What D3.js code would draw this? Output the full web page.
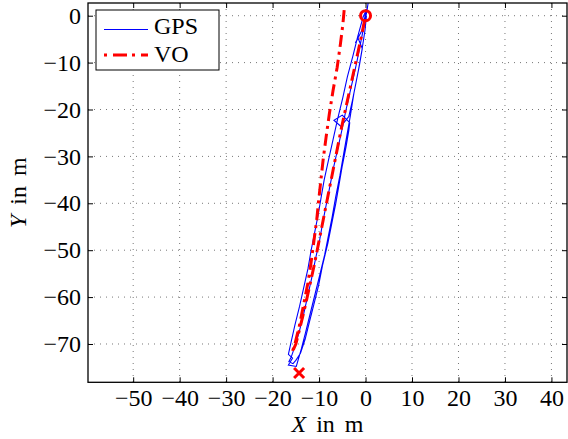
<!DOCTYPE html>
<html lang="en">
<head>
<meta charset="UTF-8">
<title>GPS vs VO</title>
<script src="https://cdnjs.cloudflare.com/ajax/libs/d3/7.8.5/d3.min.js"></script>
<style>
  body { margin: 0; background: #fff; }
</style>
</head>
<body>
<div id="chart"></div>
<script>
// tick values
const xTicks = [-50, -40, -30, -20, -10, 0, 10, 20, 30, 40];
const yTicks = [-70, -60, -50, -40, -30, -20, -10, 0];

// GPS track (several passes up and down the road), metres
const gpsX = [0.6, 0.3, -0.1, -0.7, -1.3, -1.9, -2.7, -3.5, -4.3, -5.0, -5.9, -6.8, -7.6, -8.4, -9.2, -9.9, -10.8, -11.6, -12.5, -13.4, -14.3, -15.2, -16.0, -16.5, -15.6, -15.0,
  -14.0, -13.0, -12.0, -11.1, -10.1, -9.2, -8.1, -7.3, -6.4, -5.7, -5.0, -4.2, -3.6, -3.4, -5.0, -6.8, -5.3, -3.6, -2.8, -2.0, -1.3, -0.7, -1.6, -2.2, -0.7, -0.2, 0.3,
  -0.5, -1.7, -2.7, -3.9, -4.9, -6.0, -7.0, -7.9, -8.9, -9.6, -10.2, -10.9, -11.7, -12.4, -13.3, -14.2, -15.2, -16.0, -16.6, -15.7, -16.6, -14.9,
  -13.8, -12.9, -11.9, -10.9, -9.9, -8.8, -8.1, -7.2, -6.4, -5.5, -4.8, -4.1, -3.3, -2.5, -1.6, -0.8, -0.1, 0.2];
const gpsY = [3.0, 1.0, -1, -4, -7, -10, -13.5, -17, -20.5, -24, -28, -32, -36, -40, -44, -48, -52, -56, -60, -64, -67.5, -70.5, -72.8, -73.8, -74.2, -73.5,
  -72, -69, -65, -61.5, -57.5, -53, -48.5, -44.5, -40, -36, -32, -28, -24.5, -22.8, -21.2, -22.3, -23.6, -21.5, -18, -14, -10.5, -7, -4.8, -5.8, -3, -0.5, 1.5,
  -0.2, -4.5, -8.5, -13, -17.5, -22, -26.5, -30.5, -35, -39, -42.5, -46, -50, -54, -58, -62, -66, -69.5, -72.2, -73.0, -74.5, -74.8,
  -71, -67.5, -63.5, -59.5, -55.5, -51, -47.5, -43, -38.5, -34, -30, -26, -21.5, -16.5, -12, -7.5, -3, 0];

// visual odometry track, metres
const voX = [-4.6, -4.9, -5.4, -6.1, -7.0, -7.8, -8.5, -9.1, -9.6, -10.1, -10.5, -11.1, -11.7, -12.4, -13.3, -14.2, -15.2, -15.8,
  -15.0, -14.1, -13.0, -12.0, -11.0, -10.1, -9.1, -8.0, -7.0, -6.1, -5.2, -4.1, -3.0, -1.9, -0.8, 0];
const voY = [1.2, -2, -6, -11, -16, -21, -26, -30.5, -35, -39.5, -43.5, -48, -52.5, -57, -61.5, -66, -70, -71.8,
  -70, -66.5, -62, -57.5, -53, -48.5, -43.5, -38, -33, -28.5, -24, -19, -14, -9, -4, 0];

// start / end markers
const startPt = [0, 0];
const endPt = [-14.3, -76.2];

const W = 568, H = 439;
const mLeft = 88, mRight = 567, mTop = 3, mBottom = 382.3;
const FONT = "'Liberation Serif', 'Times New Roman', Times, serif";

const svg = d3.select("#chart").append("svg")
  .attr("width", W).attr("height", H)
  .attr("font-family", FONT);

const x = d3.scaleLinear().domain([-59.72, 43.35]).range([mLeft, mRight]);
const y = d3.scaleLinear().domain([-78.17, 2.71]).range([mBottom, mTop]);

svg.append("defs").append("clipPath").attr("id", "clip")
  .append("rect").attr("x", mLeft).attr("y", mTop)
  .attr("width", mRight - mLeft).attr("height", mBottom - mTop);

// grid
const grid = svg.append("g");
grid.selectAll(".gx").data(xTicks).enter().append("line")
  .attr("x1", d => x(d)).attr("x2", d => x(d))
  .attr("y1", mTop).attr("y2", mBottom);
grid.selectAll(".gy").data(yTicks).enter().append("line")
  .attr("y1", d => y(d)).attr("y2", d => y(d))
  .attr("x1", mLeft).attr("x2", mRight);
grid.selectAll("line")
  .attr("stroke", "#777").attr("stroke-width", 1)
  .attr("stroke-dasharray", "1,5");

// axes
const fmt = d => d3.format("")(d);
const gB = svg.append("g").attr("transform", `translate(0,${mBottom})`)
  .call(d3.axisBottom(x).tickValues(xTicks).tickSizeInner(-5).tickSizeOuter(0).tickPadding(7).tickFormat(fmt));
const gL = svg.append("g").attr("transform", `translate(${mLeft},0)`)
  .call(d3.axisLeft(y).tickValues(yTicks).tickSizeInner(-5).tickSizeOuter(0).tickPadding(7).tickFormat(fmt));
const gT = svg.append("g").attr("transform", `translate(0,${mTop})`)
  .call(d3.axisTop(x).tickValues(xTicks).tickSizeInner(-5).tickSizeOuter(0).tickFormat(""));
const gR = svg.append("g").attr("transform", `translate(${mRight},0)`)
  .call(d3.axisRight(y).tickValues(yTicks).tickSizeInner(-5).tickSizeOuter(0).tickFormat(""));
[gB, gL, gT, gR].forEach(g => {
  g.attr("font-family", FONT).attr("font-size", 24);
  g.select(".domain").remove();
  g.selectAll(".tick line").attr("stroke", "#000").attr("stroke-width", 1);
  g.selectAll(".tick text").attr("fill", "#000");
});

// data lines
const line = d3.line().x(d => x(d[0])).y(d => y(d[1]));
const plot = svg.append("g").attr("clip-path", "url(#clip)");

plot.append("path")
  .attr("d", line(gpsX.map((v, i) => [v, gpsY[i]])))
  .attr("fill", "none").attr("stroke", "#0000ff").attr("stroke-width", 1.1);

plot.append("path")
  .attr("d", line(voX.map((v, i) => [v, voY[i]])))
  .attr("fill", "none").attr("stroke", "#ff0000").attr("stroke-width", 3)
  .attr("stroke-dasharray", "12,5,3,5");

plot.append("circle")
  .attr("cx", x(startPt[0])).attr("cy", y(startPt[1])).attr("r", 5)
  .attr("fill", "none").attr("stroke", "#ff0000").attr("stroke-width", 3);

const s = 5;
plot.append("path")
  .attr("d", `M${x(endPt[0]) - s},${y(endPt[1]) - s}L${x(endPt[0]) + s},${y(endPt[1]) + s}M${x(endPt[0]) - s},${y(endPt[1]) + s}L${x(endPt[0]) + s},${y(endPt[1]) - s}`)
  .attr("stroke", "#ff0000").attr("stroke-width", 3).attr("fill", "none");

// frame
svg.append("rect").attr("x", mLeft).attr("y", mTop)
  .attr("width", mRight - mLeft).attr("height", mBottom - mTop)
  .attr("fill", "none").attr("stroke", "#000").attr("stroke-width", 1.3);

// axis labels
svg.append("text")
  .attr("x", (mLeft + mRight) / 2).attr("y", 432)
  .attr("text-anchor", "middle").attr("font-size", 24).attr("word-spacing", 4)
  .html('<tspan font-style="italic">X</tspan> in m');

svg.append("text")
  .attr("transform", `translate(26,${(mTop + mBottom) / 2}) rotate(-90)`)
  .attr("text-anchor", "middle").attr("font-size", 24).attr("word-spacing", 4)
  .html('<tspan font-style="italic">Y</tspan> in m');

// legend
const leg = svg.append("g");
leg.append("rect").attr("x", 96).attr("y", 10).attr("width", 123).attr("height", 60)
  .attr("fill", "#fff").attr("stroke", "#000").attr("stroke-width", 1);
leg.append("line").attr("x1", 104).attr("x2", 148).attr("y1", 29.5).attr("y2", 29.5)
  .attr("stroke", "#0000ff").attr("stroke-width", 1.1);
leg.append("line").attr("x1", 104).attr("x2", 148).attr("y1", 55).attr("y2", 55)
  .attr("stroke", "#ff0000").attr("stroke-width", 3).attr("stroke-dasharray", "3,6,14,5");
leg.append("text").attr("x", 154).attr("y", 34).attr("font-size", 24).text("GPS");
leg.append("text").attr("x", 154).attr("y", 62).attr("font-size", 24).text("VO");
</script>
</body>
</html>
